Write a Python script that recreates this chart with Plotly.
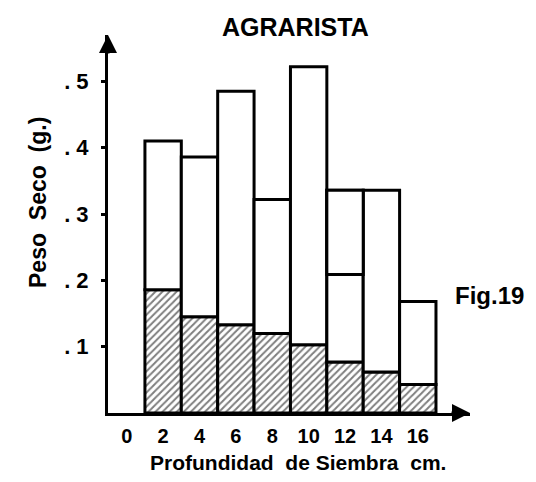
import plotly.graph_objects as go

# seeding depth (cm), one bar per depth
depth = [2, 4, 6, 8, 10, 12, 14, 16]
total = [0.41, 0.386, 0.485, 0.322, 0.522, 0.336, 0.336, 0.168]
hatched = [0.186, 0.145, 0.133, 0.120, 0.103, 0.077, 0.062, 0.043]
# extra division line inside the 12 cm bar
divide = [None, None, None, None, None, 0.209, None, None]

xticks = [0, 2, 4, 6, 8, 10, 12, 14, 16]
yticks = [0.1, 0.2, 0.3, 0.4, 0.5]
yticktext = ['. 1', '. 2', '. 3', '. 4', '. 5']

bold = dict(family='Liberation Sans, Arial, sans-serif', size=22,
            color='black', weight='bold')
outline = dict(color='black', width=3)

fig = go.Figure()
fig.add_trace(go.Bar(x=depth, y=hatched, width=2,
                     marker=dict(color='white', line=outline,
                                 pattern=dict(shape='/', fgcolor='black',
                                              bgcolor='white', size=5,
                                              solidity=0.4))))
fig.add_trace(go.Bar(x=depth, y=[t - h for t, h in zip(total, hatched)],
                     base=hatched, width=2,
                     marker=dict(color='white', line=outline)))
dx = [x for x, d in zip(depth, divide) if d is not None]
db = [d for d in divide if d is not None]
dt = [t for t, d in zip(total, divide) if d is not None]
fig.add_trace(go.Bar(x=dx, y=[t - b for t, b in zip(dt, db)], base=db,
                     width=2, marker=dict(color='white', line=outline)))

fig.update_layout(
    width=520, height=466,
    margin=dict(l=100, r=58, t=27, b=61),
    plot_bgcolor='white', paper_bgcolor='white',
    barmode='overlay', showlegend=False,
    font=bold,
    xaxis=dict(range=[-1.03, 18.87], tickvals=xticks, showgrid=False,
               zeroline=False, showline=True, linecolor='black',
               linewidth=3, ticks='', ticklabelstandoff=3,
               tickfont=dict(size=20)),
    yaxis=dict(range=[0, 0.57], tickvals=yticks, ticktext=yticktext,
               showgrid=False, zeroline=False, showline=True,
               linecolor='black', linewidth=3, ticks='outside',
               ticklen=4, tickwidth=3, tickcolor='black',
               ticklabelstandoff=8),
)

fig.add_annotation(text='AGRARISTA', xref='paper', yref='paper',
                   x=0.519, y=1.0, xanchor='center', yanchor='middle',
                   yshift=8, showarrow=False, font=dict(size=25))
fig.add_annotation(text='Profundidad  de Siembra  cm.', xref='paper',
                   yref='paper', x=0.525, y=0, xanchor='center',
                   yanchor='middle', yshift=-49, showarrow=False,
                   font=dict(size=21))
fig.add_annotation(text='Peso  Seco  (g.)', xref='paper', yref='paper',
                   x=-0.193, y=0.556, xanchor='center', yanchor='middle',
                   textangle=-90, showarrow=False, font=dict(size=23))
fig.add_annotation(text='Fig.19', xref='paper', yref='paper',
                   x=1.055, y=0.312, xanchor='center', yanchor='middle',
                   showarrow=False, font=dict(size=24))
# axis arrow heads
fig.add_annotation(xref='paper', yref='paper', x=0, y=1.0, ax=0, ay=20,
                   showarrow=True, arrowhead=2, arrowsize=1.2,
                   arrowwidth=3, arrowcolor='black', text='')
fig.add_annotation(xref='paper', yref='paper', x=1.0, y=0, ax=-20, ay=0,
                   showarrow=True, arrowhead=2, arrowsize=1.2,
                   arrowwidth=3, arrowcolor='black', text='')

fig.write_html('out.html')
